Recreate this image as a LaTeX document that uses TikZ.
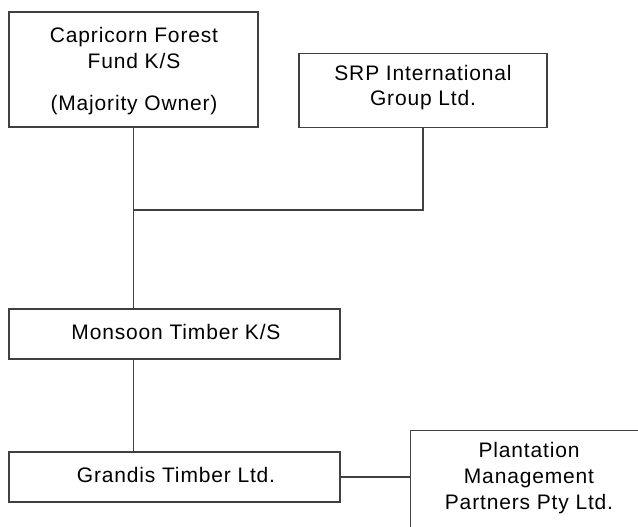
\documentclass[tikz,border=0pt]{standalone}
\usepackage{fontspec}
\setmainfont{Liberation Sans}[LetterSpace=4]
\begin{document}
\begin{tikzpicture}[x=1pt,y=-1pt,
  boxnode/.style={draw=black!75,line width=1.2pt,fill=white,inner sep=0pt},
  txt/.style={inner sep=0pt,align=center,font=\fontsize{21}{26}\selectfont},
  conn/.style={draw=black!75,line width=1.2pt}]
\useasboundingbox (0,0) rectangle (638,527);
\clip (0,0) rectangle (638,527);
\fill[white] (0,0) rectangle (638,527);
\node[boxnode,minimum width=249pt,minimum height=115pt] (cap) at (133.5,69.5) {};
\node[txt] (captxt) at (134,48) {Capricorn Forest\\Fund K/S};
\node[txt] (capsub) at (134,105) {(Majority Owner)};
\node[boxnode,minimum width=248pt,minimum height=74pt] (srp) at (423,90.5) {};
\node[txt,font=\fontsize{21}{25}\selectfont] (srptxt) at (423,88) {SRP International\\Group Ltd.};
\node[boxnode,minimum width=331pt,minimum height=50pt] (mon) at (174.5,334) {};
\node[txt] (montxt) at (176,332) {Monsoon Timber K/S};
\node[boxnode,minimum width=331pt,minimum height=50pt] (gra) at (174.5,477) {};
\node[txt] (gratxt) at (176,475) {Grandis Timber Ltd.};
\node[boxnode,minimum width=250pt,minimum height=120pt,anchor=north west] (pla) at (410,430) {};
\node[txt] (platxt) at (529,478) {Plantation\\Management\\Partners Pty Ltd.};
\coordinate (j1) at (133.5,210);
\coordinate (j2) at (srp.south |- j1);
\draw[conn] (cap.south) -- (cap.south |- mon.north);
\draw[conn] (j1) -- (j2) -- (srp.south);
\draw[conn] (mon.south -| cap.south) -- (gra.north -| cap.south);
\draw[conn] (gra.east) -- (gra.east -| pla.west);
\end{tikzpicture}
\end{document}
